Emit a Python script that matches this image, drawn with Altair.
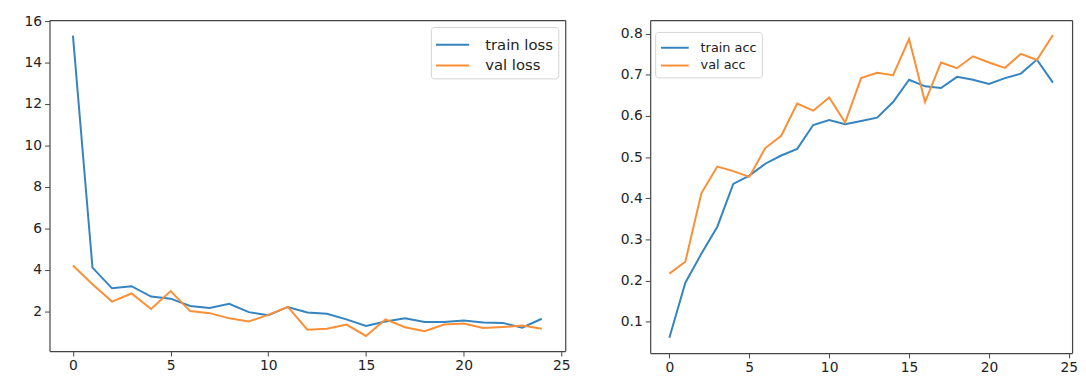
import altair as alt
import pandas as pd

epochs = list(range(25))
train_loss = [15.3, 4.1, 3.1, 3.2, 2.7, 2.6, 2.25, 2.15, 2.35, 1.95, 1.8, 2.2, 1.93, 1.87, 1.6, 1.28, 1.5, 1.65, 1.47, 1.47, 1.55, 1.45, 1.43, 1.2, 1.63]
val_loss = [4.2, 3.3, 2.46, 2.85, 2.1, 2.97, 2.0, 1.9, 1.65, 1.5, 1.82, 2.2, 1.1, 1.15, 1.35, 0.8, 1.6, 1.22, 1.03, 1.35, 1.4, 1.18, 1.23, 1.3, 1.15]
train_acc = [0.061, 0.195, 0.265, 0.331, 0.435, 0.455, 0.484, 0.504, 0.52, 0.578, 0.59, 0.58, 0.588, 0.596, 0.634, 0.688, 0.672, 0.668, 0.695, 0.688, 0.678, 0.692, 0.703, 0.737, 0.681]
val_acc = [0.217, 0.246, 0.412, 0.477, 0.466, 0.452, 0.522, 0.552, 0.63, 0.613, 0.645, 0.584, 0.692, 0.705, 0.699, 0.787, 0.634, 0.73, 0.716, 0.745, 0.73, 0.717, 0.751, 0.736, 0.797]

loss_names = ["train loss", "val loss"]
acc_names = ["train acc", "val acc"]
x_ticks = [0, 5, 10, 15, 20, 25]
loss_ticks_y = [2, 4, 6, 8, 10, 12, 14, 16]
acc_ticks_y = [0.1, 0.2, 0.3, 0.4, 0.5, 0.6, 0.7, 0.8]

BLUE = "#3584c0"
ORANGE = "#fa8f35"
FONT = "DejaVu Sans"
EDGE = "#444"
HANDLE = "M-1.4,0H1.4"

df_loss = pd.DataFrame({
    "epoch": epochs * 2,
    "value": train_loss + val_loss,
    "series": [loss_names[0]] * 25 + [loss_names[1]] * 25,
})
df_acc = pd.DataFrame({
    "epoch": epochs * 2,
    "value": train_acc + val_acc,
    "series": [acc_names[0]] * 25 + [acc_names[1]] * 25,
})


def axis(values, extent=None, fmt=None):
    kw = dict(values=values, grid=False, title=None, domainColor=EDGE, tickColor=EDGE,
              tickSize=5, labelColor="#222", labelFontSize=14, labelFont=FONT, labelPadding=3,
              domainWidth=1.2, tickWidth=1)
    if extent is not None:
        kw["minExtent"] = extent
        kw["maxExtent"] = extent
    if fmt is not None:
        kw["format"] = fmt
    return alt.Axis(**kw)


def edge_axis(orient):
    return alt.Axis(orient=orient, labels=False, ticks=False, grid=False, title=None,
                    domain=True, domainColor=EDGE, domainWidth=1.2, minExtent=0, maxExtent=0)


def legend(size, sym, lab_off, **pos):
    return alt.Legend(title=None, strokeColor="#d4d4d4", fillColor="white", cornerRadius=3,
                      padding=5, symbolType=HANDLE, symbolSize=sym, symbolOffset=4,
                      symbolStrokeWidth=2, labelFontSize=size, labelFont=FONT,
                      labelColor="#222", labelOffset=lab_off, rowPadding=0, **pos)


def panel(df, names, ydom, yticks, yext, fmt, leg, w, h):
    xs = alt.Scale(domain=[-1.2, 25.2], nice=False, zero=False)
    ys = alt.Scale(domain=ydom, nice=False, zero=False)
    lines = alt.Chart(df).mark_line(strokeWidth=2).encode(
        x=alt.X("epoch:Q", scale=xs, axis=axis(x_ticks)),
        y=alt.Y("value:Q", scale=ys, axis=axis(yticks, extent=yext, fmt=fmt)),
        color=alt.Color("series:N", scale=alt.Scale(domain=names, range=[BLUE, ORANGE]),
                        legend=leg),
    )
    box = alt.Chart(df).mark_line(opacity=0).encode(
        x=alt.X("epoch:Q", scale=xs, axis=edge_axis("top")),
        y=alt.Y("value:Q", scale=ys, axis=edge_axis("right")),
    )
    return alt.layer(lines, box).resolve_axis(x="independent", y="independent").properties(
        width=w, height=h
    )


left = panel(df_loss, loss_names, [0.07, 16.05], loss_ticks_y, 37, None,
             legend(15, 576, 20, orient="top-right", offset=7), 522, 335)
right = panel(df_acc, acc_names, [0.024, 0.833], acc_ticks_y, 35, ".1f",
              legend(13, 400, 15, orient="none", legendX=5, legendY=12), 427, 337)

chart = alt.hconcat(left, right, spacing=46).resolve_scale(color="independent").resolve_legend(
    color="independent"
).properties(
    padding={"left": 5, "top": 4, "right": 0, "bottom": 0},
    background="white",
).configure_view(stroke=None)

chart.save("out.html", embed_options={"renderer": "svg", "actions": False})
